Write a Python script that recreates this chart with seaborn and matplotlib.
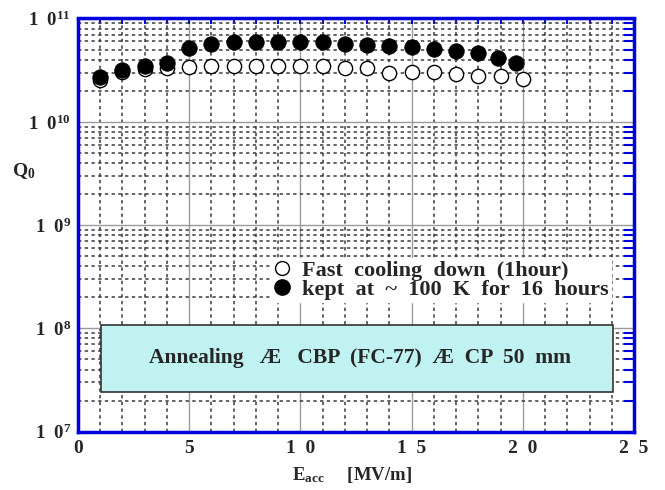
import matplotlib
matplotlib.use("Agg")
import matplotlib.pyplot as plt
import seaborn as sns
import pandas as pd
from matplotlib.ticker import MultipleLocator, FixedLocator, FixedFormatter, LogLocator, NullFormatter
from matplotlib.lines import Line2D
from matplotlib.patches import Rectangle

# ---- data ----
E_fast = [1, 2, 3, 4, 5, 6, 7, 8, 9, 10, 11, 12, 13, 14, 15, 16, 17, 18, 19, 20]
Q_fast = [2.55e10, 3.06e10, 3.23e10, 3.30e10, 3.42e10, 3.50e10, 3.50e10, 3.47e10,
          3.50e10, 3.47e10, 3.47e10, 3.35e10, 3.35e10, 2.95e10, 3.06e10, 3.02e10,
          2.91e10, 2.80e10, 2.78e10, 2.58e10]
E_kept = [1, 2, 3, 4, 5, 6, 7, 8, 9, 10, 11, 12, 13, 14, 15, 16, 17, 18, 18.9, 19.7]
Q_kept = [2.74e10, 3.18e10, 3.50e10, 3.69e10, 5.22e10, 5.62e10, 5.97e10, 5.97e10,
          5.93e10, 5.89e10, 5.89e10, 5.62e10, 5.55e10, 5.46e10, 5.35e10, 5.07e10,
          4.89e10, 4.67e10, 4.18e10, 3.72e10]
x_ticks = [0, 5, 10, 15, 20, 25]
x_tick_labels = ["0", "5", "1  0", "1  5", "2  0", "2  5"]
y_ticks = [1e7, 1e8, 1e9, 1e10, 1e11]
y_tick_labels = [r"1  0$^{7}$", r"1  0$^{8}$", r"1  0$^{9}$", r"1  0$^{10}$", r"1  0$^{11}$"]
legend_labels = ["Fast  cooling  down  (1hour)", "kept  at  ~  100  K  for  16  hours"]
note_text = "Annealing   Æ   CBP  (FC-77)  Æ  CP  50  mm"

sns.set_theme(style="white")
plt.rcParams["font.family"] = ["Liberation Serif", "DejaVu Serif"]
plt.rcParams["font.weight"] = "bold"
plt.rcParams["mathtext.fontset"] = "custom"
plt.rcParams["mathtext.rm"] = "Liberation Serif:bold"
plt.rcParams["mathtext.bf"] = "Liberation Serif:bold"
plt.rcParams["mathtext.it"] = "Liberation Serif:bold"
plt.rcParams["mathtext.default"] = "rm"

fig = plt.figure(figsize=(6.65, 4.9), dpi=100)
ax = fig.add_axes([78/665, 1 - 431.7/490, (634-78)/665, (431.7-18.5)/490])

df_fast = pd.DataFrame({"E": E_fast, "Q": Q_fast})
df_kept = pd.DataFrame({"E": E_kept, "Q": Q_kept})

sns.scatterplot(data=df_fast, x="E", y="Q", ax=ax, s=105, color="white",
                edgecolor="black", linewidth=1.0, zorder=4, legend=False)
sns.scatterplot(data=df_kept, x="E", y="Q", ax=ax, s=125, color="black",
                edgecolor="black", linewidth=0.5, zorder=5, legend=False)

ax.set_yscale("log")
ax.set_xlim(0, 25)
ax.set_ylim(1e7, 1e11)

ax.xaxis.set_major_locator(FixedLocator(x_ticks))
ax.xaxis.set_major_formatter(FixedFormatter(x_tick_labels))
ax.xaxis.set_minor_locator(MultipleLocator(1))
ax.yaxis.set_major_locator(FixedLocator(y_ticks))
ax.yaxis.set_major_formatter(FixedFormatter(y_tick_labels))
ax.yaxis.set_minor_locator(LogLocator(base=10, subs=range(2, 10)))
ax.yaxis.set_minor_formatter(NullFormatter())

ax.grid(which="major", color="#9a9a9a", linewidth=1.0, linestyle="-", zorder=1)
ax.grid(which="minor", color="#3a3a3a", linewidth=1.1, linestyle=(0, (2.2, 2.2)), zorder=1)
ax.set_axisbelow(True)

for sp in ax.spines.values():
    sp.set_color("#0000dd")
    sp.set_linewidth(2.5)
    sp.set_visible(True)

ax.tick_params(which="both", direction="in", color="#0000dd", top=True, right=True,
               width=1.5)
ax.tick_params(axis="x", which="major", length=4, pad=6, labelsize=14)
ax.tick_params(axis="x", which="minor", length=4)
ax.tick_params(axis="y", which="major", length=0, pad=5, labelsize=13.5)
ax.tick_params(axis="y", which="minor", length=7)
for lab in ax.get_xticklabels() + ax.get_yticklabels():
    lab.set_fontweight("bold")

ax.set_xlabel("")
ax.set_ylabel("")
fig.text(292/665, 1 - 480/490, r"E$_{\mathregular{acc}}$     [MV/m]", ha="left", va="baseline",
         fontsize=13.5, fontweight="bold")
fig.text(12/665, 1 - 176/490, r"Q$_{\mathregular{0}}$", ha="left", va="baseline",
         fontsize=14, fontweight="bold")

handles = [
    Line2D([], [], marker="o", linestyle="none", markersize=10, markerfacecolor="white",
           markeredgecolor="black", markeredgewidth=1.0),
    Line2D([], [], marker="o", linestyle="none", markersize=11, markerfacecolor="black",
           markeredgecolor="black"),
]
leg = ax.legend(handles, legend_labels, loc="upper right",
                bbox_to_anchor=((611-78)/556, (431.7-258)/413.2),
                frameon=True, facecolor="white", edgecolor="white", framealpha=1,
                fancybox=False, borderpad=0.1, labelspacing=-0.05, handletextpad=0.45,
                handlelength=0.9, borderaxespad=0, prop={"size": 16, "weight": "bold"})
leg.set_zorder(6)

rect = Rectangle(((101-78)/556, (431.7-391.7)/413.2), (613-101)/556, (391.7-325)/413.2,
                 transform=ax.transAxes, facecolor="#c0f2f2", edgecolor="#333333",
                 linewidth=1.2, zorder=6)
ax.add_patch(rect)
ax.text((360-78)/556, (431.7-358)/413.2, note_text, transform=ax.transAxes,
        ha="center", va="center", fontsize=15.5, fontweight="bold", zorder=7)

fig.savefig("out.png", dpi=100)
